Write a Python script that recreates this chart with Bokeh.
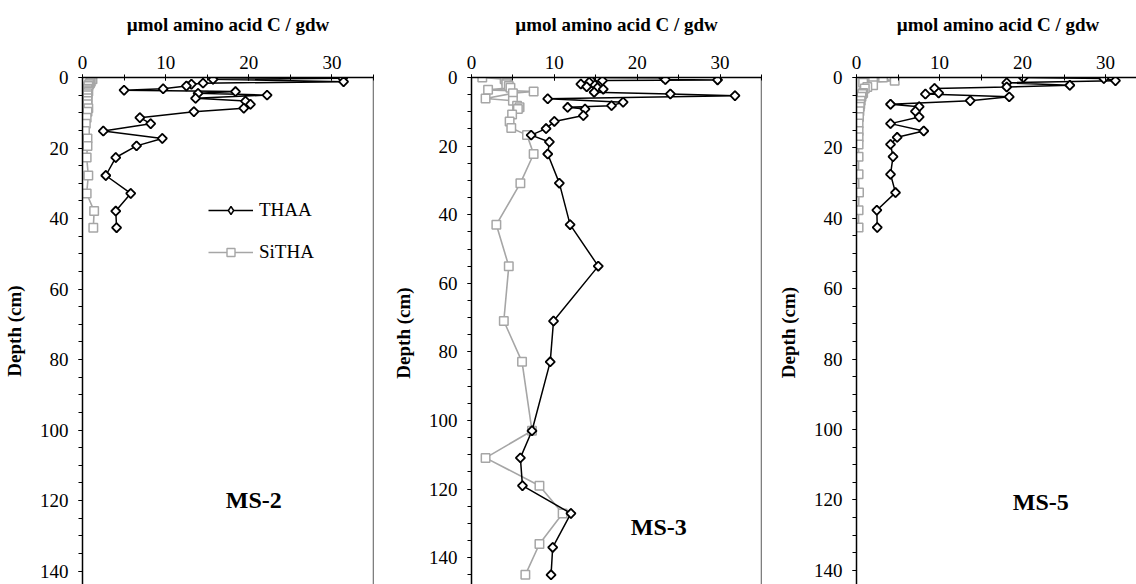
import math
from bokeh.plotting import figure
from bokeh.layouts import row
from bokeh.models import Range1d, SingleIntervalTicker, Span, Label, Legend, LegendItem
from bokeh.embed import file_html
from bokeh.resources import INLINE

# ---------------- data ----------------
ms2_depth = [0.2, 0.5, 1.2, 1.6, 1.9, 2.4, 3.2, 3.6, 4.0, 4.5, 5.0, 5.9, 6.7, 7.6, 8.7, 9.7,
             11.4, 13.1, 15.2, 17.3, 19.4, 22.7, 27.8, 32.9, 37.9, 42.6]
ms2_thaa = [31.3, 15.7, 31.4, 14.5, 13.1, 12.5, 9.7, 5.0, 18.4, 13.9, 22.2, 13.6, 19.6, 20.2, 19.4, 13.4,
            6.9, 8.2, 2.5, 9.6, 6.5, 4.0, 2.8, 5.8, 4.0, 4.1]
ms2_sitha = [1.1, 1.2, 1.0, 0.9, 0.8, 0.7, 0.6, 0.6, 0.7, 0.6, 0.6, 0.6, 0.6, 0.6, 0.7, 0.6,
             0.5, 0.4, 0.3, 0.6, 0.6, 0.5, 0.7, 0.5, 1.4, 1.3]

ms3_thaa_depth = [0.0, 0.1, 0.6, 0.7, 0.9, 1.4, 1.9, 2.2, 2.7, 3.0, 3.4, 4.3, 4.8, 5.3, 6.2, 7.2, 8.2, 8.7,
                  9.2, 11.1, 12.8, 14.9, 16.8, 18.8, 22.3, 30.8, 42.9, 55.0, 71.0, 82.9, 103.0, 110.9,
                  119.0, 127.1, 137.0, 145.0]
ms3_thaa = [15.2, 23.2, 23.4, 29.7, 15.8, 14.2, 13.2, 14.9, 13.9, 15.2, 15.9, 14.8, 24.0, 31.8, 9.2, 18.3,
            16.9, 11.6, 13.7, 13.5, 10.0, 9.0, 7.2, 9.4, 9.2, 10.6, 11.9, 15.3, 9.9, 9.5, 7.3, 5.9,
            6.15, 12.0, 9.8, 9.6]
ms3_sitha_depth = [0.0, 0.5, 1.0, 1.5, 2.0, 2.5, 3.0, 3.6, 4.1, 4.6, 6.1, 6.8, 8.2, 8.7, 9.2, 10.8, 12.8,
                   14.7, 16.8, 22.3, 30.8, 42.9, 55.0, 71.0, 82.9, 103.0, 110.9, 119.0, 127.1, 136.0, 145.0]
ms3_sitha = [1.3, 4.0, 4.2, 4.3, 4.2, 4.5, 4.7, 2.0, 7.5, 5.0, 1.7, 5.0, 5.5, 5.8, 5.6, 4.9, 4.6,
             4.8, 6.7, 7.5, 5.9, 3.0, 4.5, 3.9, 6.1, 7.3, 1.7, 8.2, 11.0, 8.2, 6.5]

ms5_depth = [0.0, 0.3, 0.9, 1.5, 2.2, 2.7, 3.1, 4.4, 4.7, 5.5, 6.6, 7.6, 8.3, 9.6, 11.2, 13.1, 15.2,
             17.0, 19.0, 22.5, 27.5, 32.7, 37.7, 42.6]
ms5_thaa = [20.1, 29.8, 31.2, 18.1, 25.7, 18.1, 9.4, 9.9, 8.3, 18.4, 13.7, 4.1, 7.55, 7.1, 7.55, 4.1, 8.1,
            4.9, 4.1, 4.4, 4.1, 4.7, 2.45, 2.5]
ms5_sitha = [3.2, 2.0, 4.6, 0.8, 2.0, 1.3, 1.0, 0.8, 0.7, 0.6, 0.5, 0.45, 0.4, 0.35, 0.3, 0.25, 0.25,
             0.25, 0.25, 0.25, 0.25, 0.3, 0.25, 0.25]

x_title = "µmol amino acid C / gdw"
y_title = "Depth (cm)"
series_names = ["THAA", "SiTHA"]

FONT = "Liberation Serif"
GRAY = "#A6A6A6"


def make_panel(td, tv, sd, sv, name, name_xy, frame_w, frame_h, xmax, ymax,
               left, top, right, border=True, legend=False):
    p = figure(frame_width=frame_w, frame_height=frame_h,
               x_range=Range1d(0, xmax), y_range=Range1d(ymax, 0),
               x_axis_location="above", output_backend="svg", toolbar_location=None,
               min_border_left=left, min_border_top=top, min_border_right=right,
               min_border_bottom=0)
    p.outline_line_color = None
    p.grid.visible = False
    p.background_fill_color = "white"
    p.border_fill_color = "white"

    xa = p.xaxis[0]
    xa.ticker = SingleIntervalTicker(interval=10, num_minor_ticks=2)
    xa.axis_label = x_title
    xa.axis_label_text_font = FONT
    xa.axis_label_text_font_style = "bold"
    xa.axis_label_text_font_size = "19px"
    xa.axis_label_text_color = "black"
    xa.axis_label_standoff = 18
    xa.major_label_text_font = FONT
    xa.major_label_text_font_size = "19px"
    xa.major_label_text_color = "black"
    xa.major_label_standoff = 6
    xa.major_tick_in = 3
    xa.major_tick_out = 3
    xa.minor_tick_in = 3
    xa.minor_tick_out = 3
    xa.axis_line_width = 1.5

    ya = p.yaxis[0]
    ya.ticker = SingleIntervalTicker(interval=20, num_minor_ticks=4)
    ya.axis_label = y_title
    ya.axis_label_text_font = FONT
    ya.axis_label_text_font_style = "bold"
    ya.axis_label_text_font_size = "19px"
    ya.axis_label_text_color = "black"
    ya.axis_label_standoff = 12
    ya.major_label_text_font = FONT
    ya.major_label_text_font_size = "19px"
    ya.major_label_text_color = "black"
    ya.major_label_standoff = 10
    ya.major_tick_in = 0
    ya.major_tick_out = 4
    ya.minor_tick_in = 0
    ya.minor_tick_out = 4
    ya.axis_line_width = 1.5

    if border:
        p.add_layout(Span(location=xmax, dimension="height", line_color="black", line_width=1.3))

    # key-marker renderers (drawn underneath the visible markers, used by the legend)
    km2 = p.scatter(sv, sd, marker="square", size=6.5, line_color=GRAY, line_width=1.4,
                    fill_color="white")
    km1 = p.scatter(tv, td, marker="diamond", size=9, line_color="black", line_width=1.4,
                    fill_color="white")

    l2 = p.line(sv, sd, line_color=GRAY, line_width=1.6)
    p.scatter(sv, sd, marker="square", size=8.5, line_color=GRAY, line_width=1.5,
              fill_color="white")
    l1 = p.line(tv, td, line_color="black", line_width=1.5)
    p.scatter(tv, td, marker="square", angle=math.pi / 4, size=6.5, line_color="black",
              line_width=1.8, fill_color="white")

    p.add_layout(Label(x=name_xy[0], y=name_xy[1], text=name, text_align="center",
                       text_baseline="middle", text_font=FONT, text_font_style="bold",
                       text_font_size="24px", text_color="black"))

    if legend:
        lg = Legend(items=[LegendItem(label=series_names[0], renderers=[l1, km1]),
                           LegendItem(label=series_names[1], renderers=[l2, km2])],
                    location=(126, 321), glyph_width=45, glyph_height=20, spacing=20,
                    padding=0, margin=0, border_line_color=None, background_fill_alpha=0,
                    label_text_font=FONT, label_text_font_size="19px", label_text_color="black",
                    label_standoff=6, label_height=20)
        p.add_layout(lg)
    return p


p1 = make_panel(ms2_depth, ms2_thaa, ms2_depth, ms2_sitha, "MS-2", (20.6, 119.9),
                291, 507, 35, 507 / 3.525, 79, 77, 10, legend=True)
p2 = make_panel(ms3_thaa_depth, ms3_thaa, ms3_sitha_depth, ms3_sitha, "MS-3", (22.6, 131.0),
                290, 511, 35, 511 / 3.43, 88, 73, 10)
p3 = make_panel(ms5_depth, ms5_thaa, ms5_depth, ms5_sitha, "MS-5", (22.2, 120.5),
                283, 510, 283 / 8.3, 510 / 3.52, 85, 74, 0, border=False)

layout = row(p1, p2, p3, spacing=0)
open("out.html", "w").write(file_html(layout, INLINE))
